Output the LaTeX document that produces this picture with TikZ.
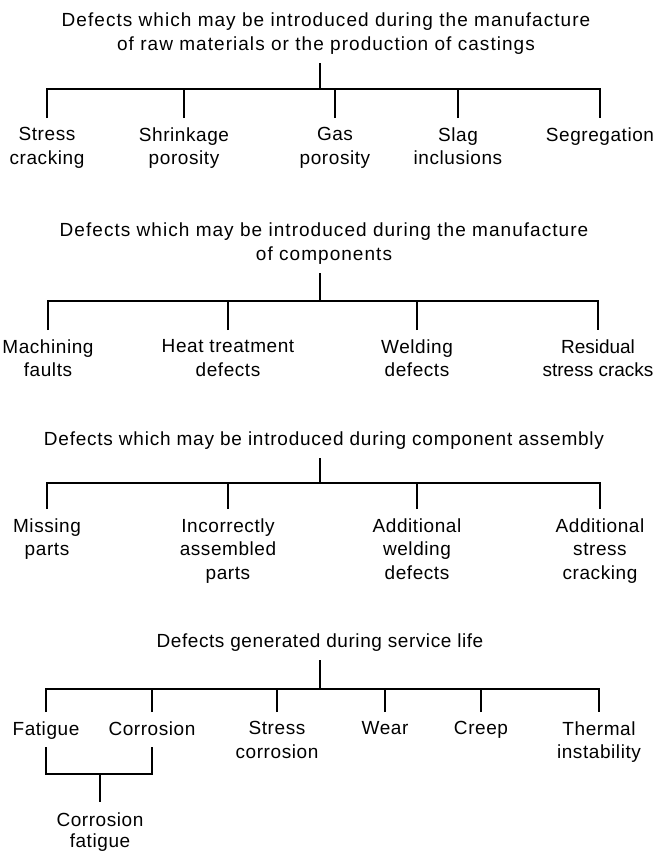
\documentclass[tikz,border=0pt]{standalone}
\usepackage{fontspec}
\setmainfont{Liberation Sans}[LetterSpace=3]
\begin{document}
\begin{tikzpicture}[x=1pt,y=-1pt,
  every node/.style={font=\fontsize{19}{23.5}\selectfont, align=center, inner xsep=0pt},
  ttl/.style={anchor=south, inner ysep=8.5pt},
  widettl/.style={ttl, font=\fontsize{19}{23.5}\selectfont\addfontfeature{LetterSpace=5.5}},
  leaf/.style={anchor=north, inner ysep=9.5pt},
  link/.style={line width=1.7pt, line join=miter}]
\fill[white] (0,0) rectangle (655,852);
\useasboundingbox (0,0) rectangle (655,852);

% ---------- Section 1
\node[widettl] (t1) at (326,63) {Defects which may be introduced during the manufacture\\of raw materials or the production of castings};
\coordinate (b1) at (320,89);
\node[leaf] (s1a) at (47,118) {Stress\\cracking};
\node[leaf] (s1b) at (184,118) {Shrinkage\\porosity};
\node[leaf] (s1c) at (335,118) {Gas\\porosity};
\node[leaf] (s1d) at (458,118) {Slag\\inclusions};
\node[leaf] (s1e) at (600,118) {Segregation};
\draw[link] (t1.south -| b1) -- (b1);
\draw[link] (s1a.north) |- (b1) -| (s1e.north);
\draw[link] (s1b.north) -- (s1b.north |- b1);
\draw[link] (s1c.north) -- (s1c.north |- b1);
\draw[link] (s1d.north) -- (s1d.north |- b1);

% ---------- Section 2
\node[widettl] (t2) at (324,273) {Defects which may be introduced during the manufacture\\of components};
\coordinate (b2) at (320,301);
\node[leaf] (s2a) at (48,330) {Machining\\faults};
\node[leaf] (s2b) at (228,330) {Heat treatment\\defects};
\node[leaf] (s2c) at (417,330) {Welding\\defects};
\node[leaf, font=\fontsize{19}{23.5}\selectfont\addfontfeature{LetterSpace=0}] (s2d) at (598,330) {Residual\\stress cracks};
\draw[link] (t2.south -| b2) -- (b2);
\draw[link] (s2a.north) |- (b2) -| (s2d.north);
\draw[link] (s2b.north) -- (s2b.north |- b2);
\draw[link] (s2c.north) -- (s2c.north |- b2);

% ---------- Section 3
\node[ttl, font=\fontsize{19}{23.5}\selectfont\addfontfeature{LetterSpace=4}] (t3) at (324,458) {Defects which may be introduced during component assembly};
\coordinate (b3) at (320,483);
\node[leaf] (s3a) at (47,509) {Missing\\parts};
\node[leaf] (s3b) at (228,509) {Incorrectly\\assembled\\parts};
\node[leaf] (s3c) at (417,509) {Additional\\welding\\defects};
\node[leaf] (s3d) at (600,509) {Additional\\stress\\cracking};
\draw[link] (t3.south -| b3) -- (b3);
\draw[link] (s3a.north) |- (b3) -| (s3d.north);
\draw[link] (s3b.north) -- (s3b.north |- b3);
\draw[link] (s3c.north) -- (s3c.north |- b3);

% ---------- Section 4
\node[ttl] (t4) at (320,660) {Defects generated during service life};
\coordinate (b4) at (320,689);
\node[leaf] (s4a) at (46,712) {Fatigue};
\node[leaf] (s4b) at (152,712) {Corrosion};
\node[leaf] (s4c) at (277,712) {Stress\\corrosion};
\node[leaf] (s4d) at (385,712) {Wear};
\node[leaf] (s4e) at (481,712) {Creep};
\node[leaf] (s4f) at (599,712) {Thermal\\instability};
\draw[link] (t4.south -| b4) -- (b4);
\draw[link] (s4a.north) |- (b4) -| (s4f.north);
\draw[link] (s4b.north) -- (s4b.north |- b4);
\draw[link] (s4c.north) -- (s4c.north |- b4);
\draw[link] (s4d.north) -- (s4d.north |- b4);
\draw[link] (s4e.north) -- (s4e.north |- b4);

% ---------- Corrosion fatigue
\coordinate (cfj) at (100,774);
\node[leaf, inner ysep=10.5pt, font=\fontsize{19}{21}\selectfont] (cf) at (100,802) {Corrosion\\fatigue};
\draw[link] ([yshift=-12pt]s4a.base) |- (cfj) -| ([yshift=-12pt]s4b.base);
\draw[link] (cfj) -- (cf.north);
\end{tikzpicture}
\end{document}
